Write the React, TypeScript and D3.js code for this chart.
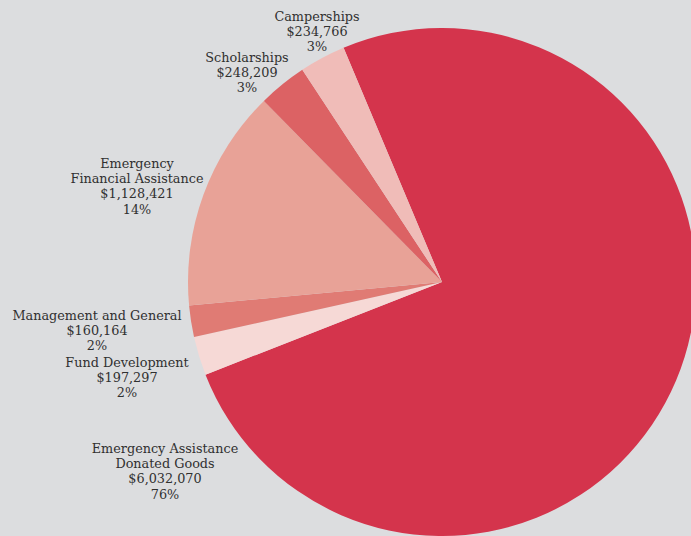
import React from "react";
import * as d3 from "d3";

const categories = [
  "Emergency Assistance Donated Goods",
  "Fund Development",
  "Management and General",
  "Emergency Financial Assistance",
  "Scholarships",
  "Camperships",
];
const values = [6032070, 197297, 160164, 1128421, 248209, 234766];
const percentLabels = ["76%", "2%", "2%", "14%", "3%", "3%"];
const labelLines = [
  ["Emergency Assistance", "Donated Goods"],
  ["Fund Development"],
  ["Management and General"],
  ["Emergency", "Financial Assistance"],
  ["Scholarships"],
  ["Camperships"],
];
const colors = ["#d4344c", "#f6d9d6", "#e07b74", "#e8a297", "#dc6264", "#f0bcb8"];
// label anchor (center x, first baseline y)
const labelPos: [number, number][] = [
  [165, 453],
  [127, 367],
  [97, 320],
  [137, 168],
  [247, 62],
  [317, 21],
];

const W = 691;
const H = 536;
const cx = 442;
const cy = 282;
const R = 254;
const startDeg = -22.8;

export default function App() {
  const pie = d3
    .pie<number>()
    .sort(null)
    .startAngle((startDeg * Math.PI) / 180)
    .endAngle((startDeg * Math.PI) / 180 + 2 * Math.PI);
  const arcs = pie(values);
  const arc = d3.arc<d3.PieArcDatum<number>>().innerRadius(0).outerRadius(R);
  const fmt = d3.format("$,");
  return (
    <svg
      width={W}
      height={H}
      style={{ position: "absolute", left: 0, top: 0, display: "block" }}
    >
      <rect width={W} height={H} fill="#dcdddf" />
      <g transform={`translate(${cx},${cy})`}>
        {arcs.map((a, i) => (
          <path key={i} d={arc(a) || ""} fill={colors[i]} />
        ))}
      </g>
      {categories.map((c, i) => {
        const lines = [...labelLines[i], fmt(values[i]), percentLabels[i]];
        const [x, y] = labelPos[i];
        return (
          <text
            key={c}
            x={x}
            y={y}
            textAnchor="middle"
            fontFamily="'DejaVu Serif', serif"
            fontSize={12.8}
            fill="#303030"
          >
            {lines.map((l, j) => (
              <tspan key={j} x={x} dy={j === 0 ? 0 : 15.2}>
                {l}
              </tspan>
            ))}
          </text>
        );
      })}
    </svg>
  );
}
